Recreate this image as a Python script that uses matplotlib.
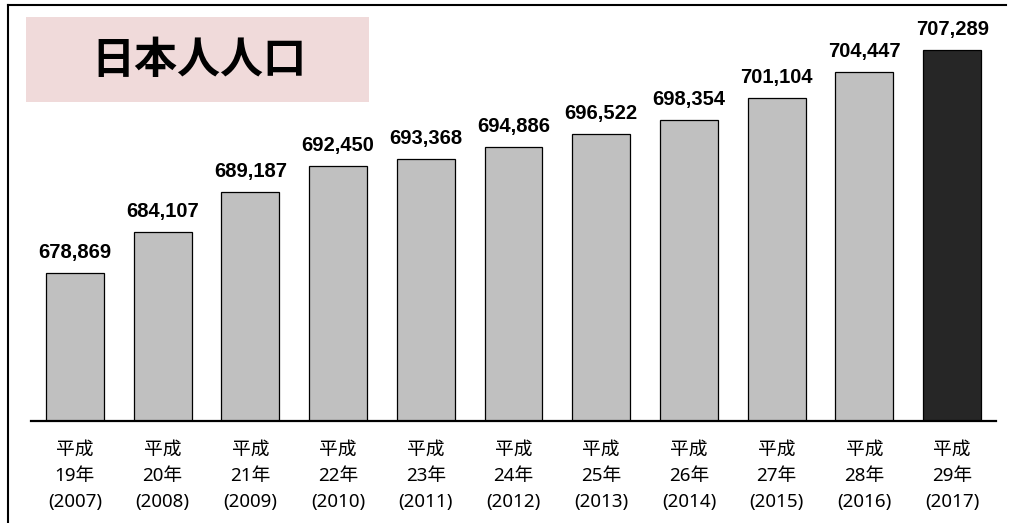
import numpy as np
import matplotlib.pyplot as plt
from matplotlib.patches import Rectangle
from matplotlib.lines import Line2D

# data
heisei = ["19", "20", "21", "22", "23", "24", "25", "26", "27", "28", "29"]
years = ["2007", "2008", "2009", "2010", "2011", "2012", "2013", "2014", "2015", "2016", "2017"]
population = [678869, 684107, 689187, 692450, 693368, 694886, 696522, 698354, 701104, 704447, 707289]

labels = ["平成\n%s年\n(%s)" % (h, y) for h, y in zip(heisei, years)]
colors = ["#c0c0c0"] * (len(population) - 1) + ["#262626"]

plt.rcParams['font.family'] = ['Noto Sans CJK JP', 'DejaVu Sans']

fig = plt.figure(figsize=(10.11, 5.23), dpi=100)
ax = fig.add_axes([31 / 1011, 1 - 421 / 523, 965 / 1011, 401 / 523])

x = np.arange(len(population))
bars = ax.bar(x, population, width=0.66, color=colors, edgecolor="black", linewidth=0.9)

for xi, v in zip(x, population):
    ax.annotate("{:,}".format(v), (xi, v), xytext=(0, 8), textcoords="offset points",
                ha="center", va="bottom", fontsize=14.5, fontweight="bold",
                family="Liberation Sans")

ax.set_xlim(-0.5, len(population) - 0.5)
ax.set_ylim(660000, 711100)
ax.set_xticks(x)
ax.set_xticklabels(labels, fontsize=13.5, linespacing=1.6,
                   family=['Noto Sans', 'Noto Sans CJK JP'])
ax.tick_params(axis="x", length=0, pad=14)
ax.set_yticks([])
for s in ["top", "left", "right"]:
    ax.spines[s].set_visible(False)
ax.spines["bottom"].set_linewidth(1.6)

# title box
fig.patches.append(Rectangle((26 / 1011, 1 - 102 / 523), 343 / 1011, 85 / 523,
                             transform=fig.transFigure, facecolor="#f0dada", edgecolor="none"))
fig.text(199 / 1011, 1 - 60 / 523, "日本人人口", ha="center", va="center",
         fontsize=31, fontweight="bold")

# frame lines
fig.add_artist(Line2D([8 / 1011, 1006 / 1011], [1 - 5 / 523, 1 - 5 / 523],
                      transform=fig.transFigure, color="black", linewidth=1.5))
fig.add_artist(Line2D([8 / 1011, 8 / 1011], [1 - 5 / 523, 0],
                      transform=fig.transFigure, color="black", linewidth=1.5))

fig.savefig("out.png", dpi=100)
